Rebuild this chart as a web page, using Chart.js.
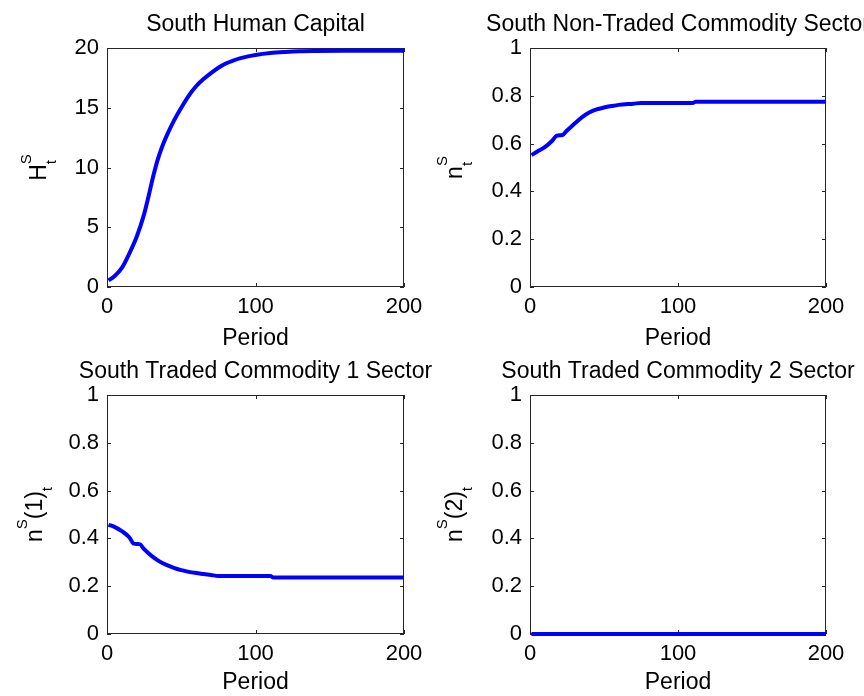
<!DOCTYPE html>
<html>
<head>
<meta charset="utf-8">
<title>South sector paths</title>
<script src="https://cdn.jsdelivr.net/npm/chart.js@4.4.1/dist/chart.umd.min.js"></script>
<style>
    html, body { margin: 0; padding: 0; background: #fff; }
    #wrap { position: relative; width: 864px; height: 696px; overflow: hidden; }
    #wrap canvas { position: absolute; }
</style>
</head>
<body>
<div id="wrap">
    <canvas id="humanCapital" width="448" height="360" style="left:0;top:0"></canvas>
    <canvas id="nonTraded" width="432" height="360" style="left:432px;top:0"></canvas>
    <canvas id="traded1" width="448" height="348" style="left:0;top:348px"></canvas>
    <canvas id="traded2" width="432" height="348" style="left:432px;top:348px"></canvas>
</div>
<script>
    // values
    var humanPeriods = [1, 5, 10, 15, 20, 25, 28, 31, 34, 37, 40, 45, 50, 55, 60, 65, 70, 75, 80, 85, 90, 95, 100, 110, 120, 130, 140, 160, 200];
    var humanValues = [0.55, 0.9, 1.6, 2.8, 4.2, 6.1, 7.6, 9.2, 10.6, 11.7, 12.6, 13.9, 15.0, 16.0, 16.8, 17.4, 17.9, 18.35, 18.7, 18.95, 19.15, 19.3, 19.42, 19.58, 19.67, 19.73, 19.75, 19.76, 19.76];

    var nonTradedPeriods = [1, 5, 10, 15, 18, 22, 25, 30, 35, 40, 45, 50, 55, 60, 70, 75, 110, 112, 200];
    var nonTradedValues = [0.552, 0.567, 0.585, 0.612, 0.633, 0.636, 0.655, 0.683, 0.710, 0.730, 0.743, 0.751, 0.757, 0.762, 0.767, 0.770, 0.770, 0.775, 0.775];

    var traded1Periods = [1, 5, 10, 15, 18, 22, 25, 30, 35, 40, 45, 50, 55, 60, 65, 70, 75, 110, 112, 200];
    var traded1Values = [0.457, 0.448, 0.430, 0.405, 0.378, 0.376, 0.355, 0.327, 0.305, 0.289, 0.277, 0.267, 0.260, 0.255, 0.251, 0.247, 0.243, 0.243, 0.236, 0.236];

    var traded2Periods = [1, 50, 100, 150, 200];
    var traded2Values = [0, 0, 0, 0, 0];

    var periodTicks = [0, 100, 200];
    var humanTicks = [0, 5, 10, 15, 20];
    var shareTicks = [0, 0.2, 0.4, 0.6, 0.8, 1];

    var FONT = '"Liberation Sans", Arial, Helvetica, sans-serif';
    Chart.defaults.font.family = FONT;
    Chart.defaults.color = '#000';

    // matlab style box, inward ticks, title and tex-like y label
    var matlabFrame = {
        id: 'matlabFrame',
        beforeDatasetsDraw: function (chart) {
            var a = chart.chartArea;
            var ctx = chart.ctx;
            var xs = chart.scales.x;
            var ys = chart.scales.y;
            ctx.save();
            ctx.strokeStyle = '#262626';
            ctx.lineWidth = 1;
            ctx.strokeRect(a.left + 0.5, a.top + 0.5, a.right - a.left - 1, a.bottom - a.top - 1);
            ctx.beginPath();
            xs.ticks.forEach(function (t) {
                var px = Math.round(xs.getPixelForValue(t.value)) + 0.5;
                ctx.moveTo(px, a.bottom); ctx.lineTo(px, a.bottom - 4);
                ctx.moveTo(px, a.top); ctx.lineTo(px, a.top + 4);
            });
            ys.ticks.forEach(function (t) {
                var py = Math.round(ys.getPixelForValue(t.value)) + 0.5;
                ctx.moveTo(a.left, py); ctx.lineTo(a.left + 4, py);
                ctx.moveTo(a.right, py); ctx.lineTo(a.right - 4, py);
            });
            ctx.stroke();
            ctx.restore();
        },
        afterDraw: function (chart, args, opts) {
            var a = chart.chartArea;
            var ctx = chart.ctx;
            ctx.save();
            ctx.fillStyle = '#000';
            ctx.textBaseline = 'alphabetic';

            ctx.font = '23px ' + FONT;
            ctx.textAlign = 'center';
            ctx.fillText(opts.title, (a.left + a.right) / 2, a.top - 17);

            // y label, rotated, with super/subscripts
            var big = 23, small = 15;
            var total = 0;
            opts.label.forEach(function (p) {
                if (p.text) {
                    ctx.font = big + 'px ' + FONT;
                    p.w = ctx.measureText(p.text).width;
                } else {
                    ctx.font = small + 'px ' + FONT;
                    p.w = Math.max(p.sup ? ctx.measureText(p.sup).width : 0, p.sub ? ctx.measureText(p.sub).width : 0);
                }
                total += p.w;
            });
            ctx.translate(a.left - opts.labelGap, (a.top + a.bottom) / 2);
            ctx.rotate(-Math.PI / 2);
            ctx.textAlign = 'left';
            var cx = -total / 2;
            opts.label.forEach(function (p) {
                if (p.text) {
                    ctx.font = big + 'px ' + FONT;
                    ctx.fillText(p.text, cx, 0);
                } else {
                    ctx.font = small + 'px ' + FONT;
                    if (p.sup) ctx.fillText(p.sup, cx, -15);
                    if (p.sub) ctx.fillText(p.sub, cx, 10);
                }
                cx += p.w;
            });
            ctx.restore();
        }
    };

    function buildChart(id, cfg) {
        var points = cfg.periods.map(function (p, i) {
            return {x: p, y: cfg.values[i]};
        });
        var yTicks = cfg.yTicks;
        return new Chart(document.getElementById(id), {
            type: 'line',
            data: {
                datasets: [{
                    data: points,
                    borderColor: '#0000ff',
                    borderWidth: 4,
                    borderJoinStyle: 'round',
                    cubicInterpolationMode: 'monotone',
                    pointRadius: 0,
                    clip: 4,
                    fill: false
                }]
            },
            options: {
                responsive: false,
                animation: false,
                events: [],
                layout: {padding: cfg.padding},
                plugins: {
                    legend: {display: false},
                    tooltip: {enabled: false},
                    matlabFrame: {title: cfg.title, label: cfg.label, labelGap: cfg.labelGap}
                },
                scales: {
                    x: {
                        type: 'linear',
                        min: periodTicks[0],
                        max: periodTicks[periodTicks.length - 1],
                        afterBuildTicks: function (s) {
                            s.ticks = periodTicks.map(function (v) { return {value: v}; });
                        },
                        ticks: {
                            padding: 7, maxRotation: 0, autoSkip: false, font: {size: 22}, color: '#000',
                            callback: function (v) { return String(v); }
                        },
                        grid: {display: false, drawTicks: false},
                        border: {display: false},
                        title: {display: true, text: 'Period', font: {size: 23}, color: '#000', padding: {top: 0, bottom: cfg.periodPad}},
                        afterFit: function (s) { s.height = cfg.xHeight; }
                    },
                    y: {
                        type: 'linear',
                        min: yTicks[0],
                        max: yTicks[yTicks.length - 1],
                        afterBuildTicks: function (s) {
                            s.ticks = yTicks.map(function (v) { return {value: v}; });
                        },
                        ticks: {
                            padding: 8, autoSkip: false, font: {size: 22}, color: '#000',
                            callback: function (v) { return String(v); }
                        },
                        grid: {display: false, drawTicks: false},
                        border: {display: false},
                        afterFit: function (s) { s.width = 70; }
                    }
                }
            },
            plugins: [matlabFrame]
        });
    }

    buildChart('humanCapital', {
        periods: humanPeriods, values: humanValues, yTicks: humanTicks,
        title: 'South Human Capital',
        label: [{text: 'H'}, {sup: 'S', sub: 't'}],
        labelGap: 61,
        padding: {left: 37, right: 44, top: 48, bottom: 0},
        xHeight: 73, periodPad: 8
    });
    buildChart('nonTraded', {
        periods: nonTradedPeriods, values: nonTradedValues, yTicks: shareTicks,
        title: 'South Non-Traded Commodity Sector',
        label: [{text: 'n'}, {sup: 'S', sub: 't'}],
        labelGap: 68,
        padding: {left: 28, right: 38, top: 48, bottom: 0},
        xHeight: 73, periodPad: 8
    });
    buildChart('traded1', {
        periods: traded1Periods, values: traded1Values, yTicks: shareTicks,
        title: 'South Traded Commodity 1 Sector',
        label: [{text: 'n'}, {sup: 'S'}, {text: '(1)'}, {sub: 't'}],
        labelGap: 65,
        padding: {left: 37, right: 44, top: 47, bottom: 0},
        xHeight: 62, periodPad: 0
    });
    buildChart('traded2', {
        periods: traded2Periods, values: traded2Values, yTicks: shareTicks,
        title: 'South Traded Commodity 2 Sector',
        label: [{text: 'n'}, {sup: 'S'}, {text: '(2)'}, {sub: 't'}],
        labelGap: 68,
        padding: {left: 28, right: 38, top: 47, bottom: 0},
        xHeight: 62, periodPad: 0
    });
</script>
</body>
</html>
